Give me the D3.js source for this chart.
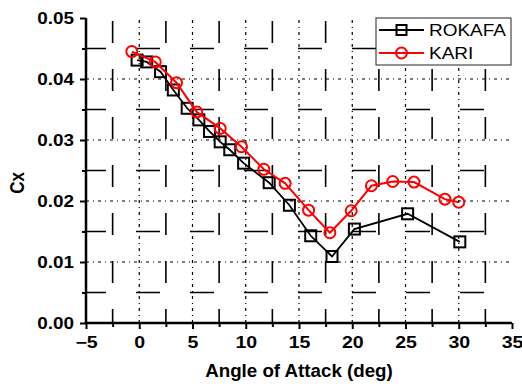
<!DOCTYPE html>
<html>
<head>
<meta charset="utf-8">
<script src="https://cdn.jsdelivr.net/npm/d3@7"></script>
<style>
  html, body { margin: 0; padding: 0; background: #fff; }
  svg { display: block; font-family: "Liberation Sans", Arial, sans-serif; }
</style>
</head>
<body>
<svg id="chart" width="522" height="384"></svg>
<script>
// angle of attack (deg) and Cx for each source
const rokafaAoA = [-0.2, 0.7, 2.0, 3.2, 4.5, 5.6, 6.6, 7.6, 8.5, 9.8, 12.2, 14.1, 16.1, 18.1, 20.2, 25.2, 30.1];
const rokafaCx  = [0.0431, 0.0428, 0.0412, 0.0382, 0.0352, 0.0333, 0.0314, 0.0297, 0.0284, 0.0262, 0.0230, 0.0193, 0.0143, 0.0109, 0.0154, 0.0179, 0.0133];
const kariAoA   = [-0.7, 1.5, 3.5, 5.4, 7.6, 9.6, 11.7, 13.7, 15.9, 17.9, 19.9, 21.8, 23.8, 25.8, 28.7, 30.0];
const kariCx    = [0.0445, 0.0428, 0.0394, 0.0346, 0.0319, 0.0289, 0.0252, 0.0229, 0.0185, 0.0148, 0.0184, 0.0225, 0.0232, 0.0231, 0.0203, 0.0198];

const xTicks = [-5, 0, 5, 10, 15, 20, 25, 30, 35];
const yTicks = [0.00, 0.01, 0.02, 0.03, 0.04, 0.05];
const xMinor = [-2.5, 2.5, 7.5, 12.5, 17.5, 22.5, 27.5, 32.5];
const yMinor = [0.005, 0.015, 0.025, 0.035, 0.045];

const svg = d3.select('#chart');
const x = d3.scaleLinear().domain([-5, 35]).range([86, 512]);
const y = d3.scaleLinear().domain([0, 0.05]).range([323, 18]);

// the original is a bit stretched sideways, widen text to match
function stretch(sel, k) {
    sel.each(function() {
        const w = this.getComputedTextLength();
        d3.select(this).attr('textLength', w * k).attr('lengthAdjust', 'spacingAndGlyphs');
    });
}

// grid (broken dash look of the original)
const grid = svg.append('g');
grid.selectAll('.gx').data(xTicks.slice(1, -1)).enter().append('line')
    .attr('x1', d => x(d)).attr('x2', d => x(d))
    .attr('y1', y(0)).attr('y2', y(0.05))
    .attr('stroke', '#000').attr('stroke-width', 1.2)
    .attr('stroke-dasharray', '3,4,1,4');
grid.selectAll('.gy').data(yTicks.slice(1, -1)).enter().append('line')
    .attr('x1', x(-5)).attr('x2', x(35))
    .attr('y1', d => y(d)).attr('y2', d => y(d))
    .attr('stroke', '#000').attr('stroke-width', 1.2)
    .attr('stroke-dasharray', '3,4,1,4');
grid.selectAll('.mx').data(xMinor).enter().append('line')
    .attr('x1', d => x(d)).attr('x2', d => x(d))
    .attr('y1', y(0)).attr('y2', y(0.05))
    .attr('stroke', '#000').attr('stroke-width', 1.6)
    .attr('stroke-dasharray', '22,26')
    .attr('stroke-dashoffset', 8);
grid.selectAll('.my').data(yMinor).enter().append('line')
    .attr('x1', x(-5)).attr('x2', x(35))
    .attr('y1', d => y(d)).attr('y2', d => y(d))
    .attr('stroke', '#000').attr('stroke-width', 1.6)
    .attr('stroke-dasharray', '24,30')
    .attr('stroke-dashoffset', 4);

// axes
const xAxis = svg.append('g').attr('transform', `translate(0,${y(0)})`)
    .call(d3.axisBottom(x).tickValues(xTicks).tickSize(6).tickPadding(7).tickFormat(d3.format('d')));
const xAxisMinor = svg.append('g').attr('transform', `translate(0,${y(0)})`)
    .call(d3.axisBottom(x).tickValues(xMinor).tickSize(4).tickFormat(''));
const yAxis = svg.append('g').attr('transform', `translate(${x(-5)},0)`)
    .call(d3.axisLeft(y).tickValues(yTicks).tickSize(6).tickPadding(6).tickFormat(d3.format('.2f')));
const yAxisMinor = svg.append('g').attr('transform', `translate(${x(-5)},0)`)
    .call(d3.axisLeft(y).tickValues(yMinor).tickSize(4).tickFormat(''));

[xAxis, xAxisMinor, yAxis, yAxisMinor].forEach(a => {
    a.select('.domain').attr('stroke', '#000').attr('stroke-width', 2.5);
    a.selectAll('.tick line').attr('stroke', '#000').attr('stroke-width', 2);
    a.selectAll('.tick text')
        .style('font-family', '"Liberation Sans", Arial, sans-serif')
        .style('font-size', '16px')
        .style('font-weight', 'bold')
        .attr('fill', '#000');
});
xAxisMinor.select('.domain').remove();
yAxisMinor.select('.domain').remove();
yAxis.select('.domain').attr('d', `M0,${y(0.05)}V${y(0)}`);
xAxis.select('.domain').attr('d', `M${x(-5)},0H${x(35)}`);
xAxis.selectAll('.tick text').attr('dy', '0.72em');
stretch(xAxis.selectAll('.tick text'), 1.22);
stretch(yAxis.selectAll('.tick text'), 1.18);

// axis titles
const xTitle = svg.append('text')
    .attr('x', 299).attr('y', 377)
    .attr('text-anchor', 'middle')
    .style('font-size', '17.5px').style('font-weight', 'bold')
    .text('Angle of Attack (deg)');
stretch(xTitle, 1.07);
svg.append('text')
    .attr('transform', 'translate(24,183) rotate(-90) scale(1,1.15)')
    .attr('text-anchor', 'middle')
    .style('font-size', '17px').style('font-weight', 'bold')
    .text('Cx');

// series
const rokafa = rokafaAoA.map((a, i) => [a, rokafaCx[i]]);
const kari = kariAoA.map((a, i) => [a, kariCx[i]]);
const line = d3.line().x(d => x(d[0])).y(d => y(d[1]));

svg.append('path').datum(rokafa).attr('d', line)
    .attr('fill', 'none').attr('stroke', '#000').attr('stroke-width', 1.8);
svg.append('g').selectAll('rect').data(rokafa).enter().append('rect')
    .attr('x', d => x(d[0]) - 5.5).attr('y', d => y(d[1]) - 5.5)
    .attr('width', 11).attr('height', 11)
    .attr('fill', 'none').attr('stroke', '#000').attr('stroke-width', 2);

svg.append('path').datum(kari).attr('d', line)
    .attr('fill', 'none').attr('stroke', '#f00').attr('stroke-width', 2);
svg.append('g').selectAll('circle').data(kari).enter().append('circle')
    .attr('cx', d => x(d[0])).attr('cy', d => y(d[1])).attr('r', 5.5)
    .attr('fill', 'none').attr('stroke', '#f00').attr('stroke-width', 2);

// legend
const legend = svg.append('g').attr('transform', 'translate(376,18)');
legend.append('rect').attr('x', 0).attr('y', 0).attr('width', 135).attr('height', 47)
    .attr('fill', '#fff').attr('stroke', '#222').attr('stroke-width', 1);
const items = [
    { name: 'ROKAFA', color: '#000', shape: 'square' },
    { name: 'KARI', color: '#f00', shape: 'circle' }
];
items.forEach((it, i) => {
    const cy = 12 + i * 23;
    legend.append('line').attr('x1', 3).attr('x2', 48).attr('y1', cy).attr('y2', cy)
        .attr('stroke', it.color).attr('stroke-width', 2);
    if (it.shape === 'square') {
        legend.append('rect').attr('x', 25.5 - 5).attr('y', cy - 5).attr('width', 10).attr('height', 10)
            .attr('fill', 'none').attr('stroke', it.color).attr('stroke-width', 2);
    } else {
        legend.append('circle').attr('cx', 25.5).attr('cy', cy).attr('r', 5.5)
            .attr('fill', 'none').attr('stroke', it.color).attr('stroke-width', 2);
    }
    const t = legend.append('text').attr('x', 53).attr('y', cy + 6)
        .style('font-size', '16.5px')
        .attr('fill', '#000')
        .text(it.name);
    stretch(t, 1.15);
});
</script>
</body>
</html>
